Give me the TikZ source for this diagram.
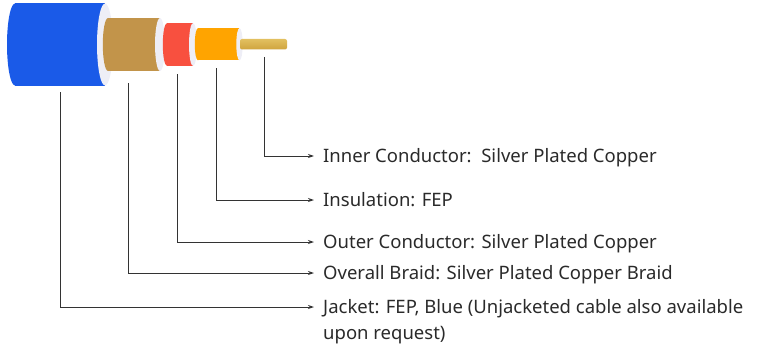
\documentclass[tikz,border=0pt]{standalone}
\usepackage{fontspec}
\setmainfont{Noto Sans}
\usetikzlibrary{arrows.meta}
\definecolor{jacketblue}{HTML}{1A5AE8}
\definecolor{braidbrown}{HTML}{C2944A}
\definecolor{outerred}{HTML}{F8503F}
\definecolor{insorange}{HTML}{FFA400}
\definecolor{facewhite}{HTML}{EEEEF6}
\definecolor{pingold}{HTML}{CFA43E}
\definecolor{pinlight}{HTML}{E2C060}
\definecolor{linegray}{HTML}{333333}
\definecolor{textgray}{HTML}{2A2A2A}
\begin{document}
\begin{tikzpicture}[x=1pt,y=-1pt,
  lbl/.style={anchor=base west,inner sep=0pt,text=textgray,font=\fontsize{18.5}{26}\selectfont},
  leader/.style={draw=linegray,line width=1pt,-{Stealth[length=6pt,width=4pt]}}]
\useasboundingbox (0,0) rectangle (765,345);
% jacket
\fill[jacketblue] (15,3.5) rectangle (105,85.5);
\fill[jacketblue] (15,44.5) ellipse [x radius=8,y radius=41];
\fill[facewhite] (105,44.5) ellipse [x radius=8,y radius=41];
% braid
\fill[braidbrown] (108,18) rectangle (160,71);
\fill[braidbrown] (108,44.5) ellipse [x radius=5.2,y radius=26.5];
\fill[facewhite] (160,44.5) ellipse [x radius=5,y radius=26.5];
% outer conductor
\fill[outerred] (167,23) rectangle (193,66);
\fill[outerred] (167,44.5) ellipse [x radius=4.2,y radius=21.5];
\fill[facewhite] (193,44.5) ellipse [x radius=4,y radius=21.5];
% insulation
\fill[insorange] (198,28) rectangle (239,60.5);
\fill[insorange] (198,44.25) ellipse [x radius=3.2,y radius=16.25];
\fill[facewhite] (239.5,44.25) ellipse [x radius=3.2,y radius=16.25];
% inner pin
\shade[top color=pinlight,bottom color=pingold,rounded corners=2pt] (240,39) rectangle (287,49.5);
% anchor points
\coordinate (cj) at (60,92);
\coordinate (cb) at (128,83);
\coordinate (co) at (177,74);
\coordinate (ci) at (216,68);
\coordinate (cp) at (264,57);
% labels
\node[lbl] (lp) at (323,162.6) {Inner Conductor:\ \ Silver Plated Copper};
\node[lbl] (li) at (323,206.6) {Insulation: FEP};
\node[lbl] (lo) at (323,248.6) {Outer Conductor: Silver Plated Copper};
\node[lbl] (lb) at (323,279.6) {Overall Braid: Silver Plated Copper Braid};
\node[lbl] (lj) at (323,313.6) {\begin{tabular}[t]{@{}l@{}}Jacket: FEP, Blue (Unjacketed cable also available\\upon request)\end{tabular}};
% leaders
\draw[leader] (cp) |- ([xshift=-9pt,yshift=6.6pt]lp.base west);
\draw[leader] (ci) |- ([xshift=-9pt,yshift=6.6pt]li.base west);
\draw[leader] (co) |- ([xshift=-9pt,yshift=6.6pt]lo.base west);
\draw[leader] (cb) |- ([xshift=-9pt,yshift=6.6pt]lb.base west);
\draw[leader] (cj) |- ([xshift=-9pt,yshift=6.6pt]lj.base west);
\end{tikzpicture}
\end{document}
